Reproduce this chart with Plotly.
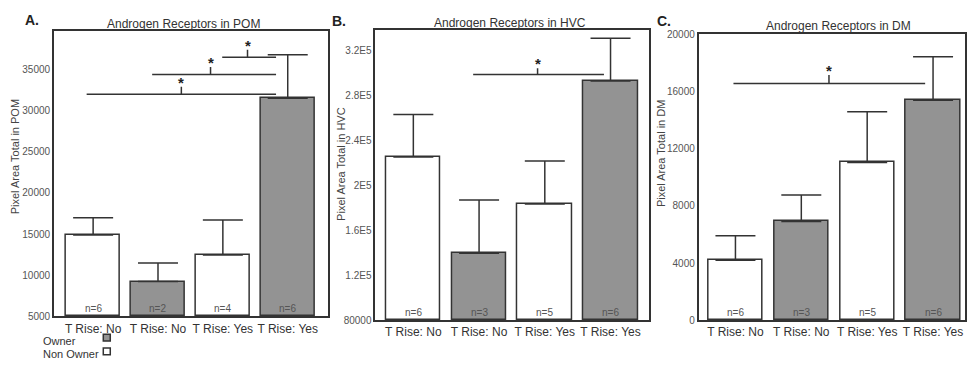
import plotly.graph_objects as go

W, H = 967, 367
FONT = "Liberation Sans, Arial, sans-serif"
DARK = "#333333"
OWNER_FILL = "#939393"

categories = ["T Rise: No", "T Rise: No", "T Rise: Yes", "T Rise: Yes"]
owner = [False, True, False, True]
n_labels = ["n=6", "n=2", "n=4", "n=6"]

pom_mean = [14900, 9250, 12450, 31500]
pom_top = [17000, 11500, 16700, 36800]
hvc_mean = [225100, 139500, 183400, 292700]
hvc_top = [263000, 186900, 221600, 330600]
hvc_n = ["n=6", "n=3", "n=5", "n=6"]
dm_mean = [4200, 6900, 11030, 15370]
dm_top = [5900, 8750, 14580, 18420]
dm_n = ["n=6", "n=3", "n=5", "n=6"]

# significance brackets: (x_start, x_end, x_tick, y_line, y_tick_top)
pom_sig = [(-0.10, 2.82, 1.36, 32000, 32900),
           (0.91, 2.82, 1.81, 34400, 35300),
           (1.99, 2.82, 2.38, 36500, 37400)]
hvc_sig = [(0.91, 2.90, 1.89, 298400, 304100)]
dm_sig = [(-0.03, 2.88, 1.42, 16550, 17150)]

pom_ticks = [5000, 10000, 15000, 20000, 25000, 30000, 35000]
hvc_ticks = [80000, 120000, 160000, 200000, 240000, 280000, 320000]
hvc_ticktext = ["80000", "1.2E5", "1.6E5", "2E5", "2.4E5", "2.8E5", "3.2E5"]
dm_ticks = [0, 4000, 8000, 12000, 16000, 20000]

panels = [
    dict(mean=pom_mean, top=pom_top, n=n_labels, sig=pom_sig, base=5000,
         yr=[5000, 39700], ticks=pom_ticks, ticktext=[str(t) for t in pom_ticks],
         xdom=[54 / W, 328.3 / W], ydom=[(H - 321) / H, (H - 26.7) / H],
         xr=[-0.605, 3.615], bw=0.84,
         title="Androgen Receptors in POM", tx=184, ty=20,
         label="A.", lx=23, ly=15,
         ytitle="Pixel Area Total in POM", ytx=15, yty=156),
    dict(mean=hvc_mean, top=hvc_top, n=hvc_n, sig=hvc_sig, base=80000,
         yr=[80000, 338100], ticks=hvc_ticks, ticktext=hvc_ticktext,
         xdom=[376 / W, 650 / W], ydom=[(H - 325) / H, (H - 25.7) / H],
         xr=[-0.58, 3.58], bw=0.83,
         title="Androgen Receptors in HVC", tx=511.5, ty=18.5,
         label="B.", lx=331, ly=17,
         ytitle="Pixel Area Total in HVC", ytx=341.5, yty=164),
    dict(mean=dm_mean, top=dm_top, n=dm_n, sig=dm_sig, base=0,
         yr=[0, 20000], ticks=dm_ticks, ticktext=[str(t) for t in dm_ticks],
         xdom=[700 / W, 1.0], ydom=[(H - 325) / H, (H - 30) / H],
         xr=[-0.56, 3.485], bw=0.82,
         title="Androgen Receptors in DM", tx=840, ty=21.5,
         label="C.", lx=656, ly=17,
         ytitle="Pixel Area Total in DM", ytx=663, yty=153),
]

fig = go.Figure()
annotations = []
layout = {}

for i, p in enumerate(panels):
    k = "" if i == 0 else str(i + 1)
    xa, ya = "x" + k, "y" + k
    xs = list(range(len(categories)))
    fig.add_trace(go.Bar(
        x=xs, y=[m - p["base"] for m in p["mean"]], base=p["base"],
        width=p["bw"], xaxis=xa, yaxis=ya,
        marker=dict(color=[OWNER_FILL if o else "white" for o in owner],
                    line=dict(color=DARK, width=1.5)),
        error_y=dict(type="data", symmetric=False,
                     array=[t - m for t, m in zip(p["top"], p["mean"])],
                     arrayminus=[0] * len(xs), color=DARK, thickness=1.5, width=20),
        showlegend=False, hoverinfo="skip"))
    # significance brackets
    bx, by = [], []
    for (x0, x1, xm, yl, yt) in p["sig"]:
        bx += [x0, x1, None, xm, xm, None]
        by += [yl, yl, None, yl, yt, None]
        annotations.append(dict(x=xm, y=yt, xref=xa, yref=ya, text="<b>*</b>",
                                showarrow=False, yanchor="bottom", yshift=-6,
                                font=dict(family=FONT, size=15, color="#222222")))
    fig.add_trace(go.Scatter(x=bx, y=by, mode="lines", xaxis=xa, yaxis=ya,
                             line=dict(color=DARK, width=1.5),
                             showlegend=False, hoverinfo="skip"))
    # n labels
    for j, t in enumerate(p["n"]):
        annotations.append(dict(x=j, y=p["base"], xref=xa, yref=ya, text=t,
                                showarrow=False, yanchor="bottom", yshift=0,
                                font=dict(family=FONT, size=10, color="#555555")))
    axis_common = dict(showline=True, linecolor=DARK, linewidth=1.5, mirror=True,
                       showgrid=False, zeroline=False, ticks="")
    layout["xaxis" + k] = dict(domain=p["xdom"], range=p["xr"], anchor=ya,
                               tickvals=xs, ticktext=categories,
                               tickfont=dict(family=FONT, size=12, color="#333333"),
                               **axis_common)
    layout["yaxis" + k] = dict(domain=p["ydom"], range=p["yr"], anchor=xa,
                               tickvals=p["ticks"], ticktext=p["ticktext"],
                               tickfont=dict(family=FONT, size=10, color="#555555"),
                               **axis_common)
    annotations.append(dict(x=p["tx"] / W, y=1 - p["ty"] / H, xref="paper", yref="paper",
                            text=p["title"], showarrow=False, xanchor="center", yanchor="middle",
                            font=dict(family=FONT, size=12, color="#333333")))
    annotations.append(dict(x=p["lx"] / W, y=1 - p["ly"] / H, xref="paper", yref="paper",
                            text="<b>" + p["label"] + "</b>", showarrow=False,
                            xanchor="left", yanchor="middle",
                            font=dict(family=FONT, size=14, color="#222222")))
    annotations.append(dict(x=p["ytx"] / W, y=1 - p["yty"] / H, xref="paper", yref="paper",
                            text=p["ytitle"], showarrow=False, textangle=-90,
                            xanchor="center", yanchor="middle",
                            font=dict(family=FONT, size=11, color="#444444")))

# legend
legend_items = [("Owner", OWNER_FILL, 343), ("Non Owner", "white", 357)]
shapes = []
for name, col, yy in legend_items:
    annotations.append(dict(x=41 / W, y=1 - (yy + 3) / H, xref="paper", yref="paper", text=name,
                            showarrow=False, xanchor="left", yanchor="middle",
                            font=dict(family=FONT, size=11, color="#333333")))
    shapes.append(dict(type="rect", xref="paper", yref="paper",
                       x0=103.5 / W, x1=110.5 / W, y0=1 - (yy + 3.5) / H, y1=1 - (yy - 3.5) / H,
                       fillcolor=col, line=dict(color=DARK, width=1.5)))

fig.update_layout(width=W, height=H, margin=dict(l=0, r=0, t=0, b=0),
                  paper_bgcolor="white", plot_bgcolor="white",
                  annotations=annotations, shapes=shapes, bargap=0, **layout)
fig.write_html("out.html")
